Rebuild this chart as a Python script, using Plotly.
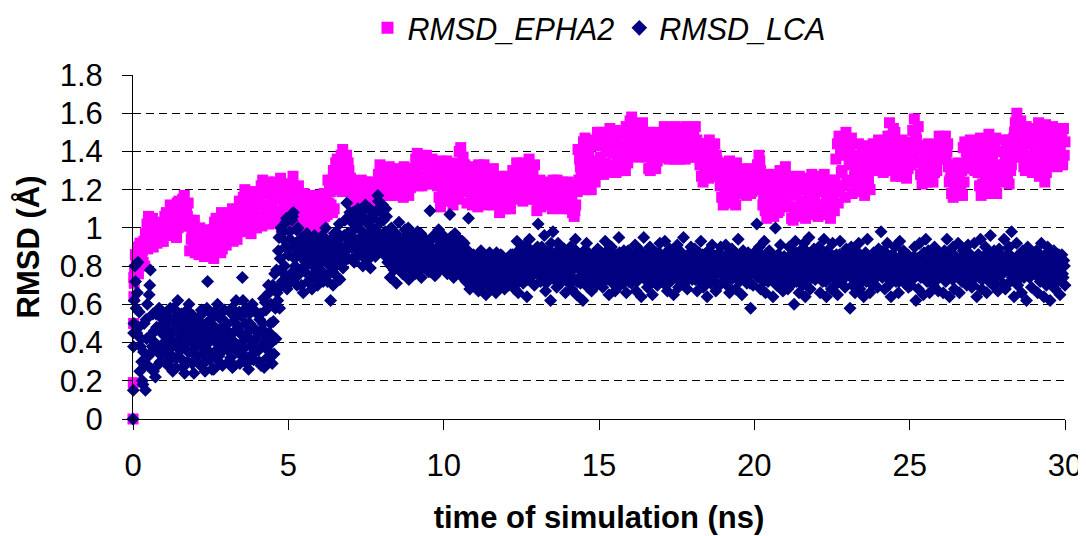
import numpy as np
import plotly.graph_objects as go

# ---------------- data ----------------
# first frames at the very start of the simulation (ns, Å)
epha2_start_t = [0.0, 0.01, 0.02, 0.03, 0.04]
epha2_start_v = [0.00, 0.19, 0.50, 0.64, 0.71]
lca_start_t = [0.0, 0.01, 0.015, 0.03]
lca_start_v = [0.00, 0.15, 0.38, 0.50]

# RMSD_EPHA2, every 0.05 ns from 0.05 to 30.00 ns (one row per ns)
epha2_vals = [
    0.78, 0.84, 0.90, 0.86, 0.82, 0.88, 0.93, 0.97, 1.02, 1.06, 1.01, 0.95, 0.90, 0.94, 0.99, 1.03, 0.98, 0.93, 0.96, 1.01,
    0.97, 1.02, 1.07, 1.12, 1.08, 1.03, 0.98, 0.95, 1.00, 1.05, 1.10, 1.15, 1.17, 1.12, 1.06, 1.01, 1.04, 0.98, 0.92, 0.87,
    0.91, 0.96, 1.00, 0.95, 0.90, 0.85, 0.89, 0.94, 0.98, 0.93, 0.88, 0.84, 0.88, 0.93, 0.99, 1.04, 1.08, 1.02, 0.96, 0.91,
    0.95, 1.00, 1.05, 1.10, 1.05, 1.00, 0.94, 0.99, 1.05, 1.11, 1.16, 1.20, 1.14, 1.08, 1.02, 0.97, 1.02, 1.08, 1.14, 1.18,
    1.12, 1.06, 1.01, 1.06, 1.12, 1.18, 1.24, 1.20, 1.14, 1.08, 1.03, 1.09, 1.15, 1.21, 1.26, 1.21, 1.15, 1.09, 1.05, 1.11,
    1.17, 1.23, 1.27, 1.21, 1.15, 1.09, 1.04, 1.09, 1.14, 1.18, 1.13, 1.07, 1.01, 1.05, 1.10, 1.16, 1.11, 1.05, 0.99, 1.04,
    1.09, 1.14, 1.18, 1.12, 1.07, 1.13, 1.19, 1.25, 1.30, 1.24, 1.20, 1.26, 1.33, 1.38, 1.41, 1.35, 1.28, 1.22, 1.30, 1.26,
    1.20, 1.14, 1.09, 1.13, 1.18, 1.23, 1.25, 1.19, 1.13, 1.10, 1.15, 1.20, 1.24, 1.18, 1.12, 1.16, 1.22, 1.28, 1.33, 1.27,
    1.21, 1.17, 1.22, 1.27, 1.32, 1.28, 1.22, 1.17, 1.20, 1.25, 1.30, 1.26, 1.20, 1.16, 1.21, 1.26, 1.31, 1.27, 1.22, 1.26,
    1.31, 1.36, 1.39, 1.33, 1.27, 1.22, 1.27, 1.33, 1.38, 1.34, 1.28, 1.23, 1.28, 1.34, 1.29, 1.22, 1.16, 1.11, 1.17, 1.24,
    1.30, 1.35, 1.29, 1.22, 1.16, 1.12, 1.18, 1.25, 1.33, 1.40, 1.42, 1.34, 1.26, 1.19, 1.13, 1.19, 1.26, 1.32, 1.27, 1.20,
    1.14, 1.11, 1.17, 1.23, 1.29, 1.33, 1.27, 1.21, 1.15, 1.19, 1.25, 1.31, 1.26, 1.19, 1.13, 1.08, 1.13, 1.19, 1.25, 1.27,
    1.21, 1.15, 1.10, 1.16, 1.22, 1.28, 1.34, 1.29, 1.23, 1.17, 1.14, 1.20, 1.26, 1.32, 1.36, 1.31, 1.25, 1.19, 1.15, 1.09,
    1.20, 1.25, 1.21, 1.16, 1.13, 1.18, 1.23, 1.19, 1.14, 1.10, 1.15, 1.20, 1.25, 1.22, 1.17, 1.12, 1.10, 1.15, 1.21, 1.24,
    1.18, 1.13, 1.08, 1.06, 1.12, 1.19, 1.25, 1.32, 1.39, 1.45, 1.47, 1.40, 1.33, 1.26, 1.20, 1.27, 1.35, 1.43, 1.50, 1.44,
    1.37, 1.30, 1.28, 1.34, 1.41, 1.48, 1.52, 1.46, 1.39, 1.32, 1.29, 1.35, 1.42, 1.49, 1.43, 1.36, 1.30, 1.38, 1.47, 1.56,
    1.58, 1.52, 1.46, 1.40, 1.37, 1.43, 1.49, 1.55, 1.50, 1.44, 1.37, 1.31, 1.30, 1.36, 1.42, 1.48, 1.50, 1.43, 1.37, 1.42,
    1.48, 1.53, 1.47, 1.41, 1.36, 1.40, 1.46, 1.51, 1.53, 1.47, 1.41, 1.36, 1.38, 1.44, 1.50, 1.53, 1.48, 1.42, 1.37, 1.43,
    1.49, 1.53, 1.46, 1.39, 1.33, 1.27, 1.24, 1.30, 1.37, 1.43, 1.46, 1.40, 1.33, 1.27, 1.31, 1.35, 1.29, 1.22, 1.16, 1.12,
    1.18, 1.25, 1.31, 1.35, 1.29, 1.22, 1.16, 1.12, 1.18, 1.24, 1.29, 1.31, 1.25, 1.19, 1.17, 1.22, 1.28, 1.31, 1.26, 1.20,
    1.27, 1.33, 1.38, 1.30, 1.22, 1.15, 1.09, 1.05, 1.11, 1.18, 1.24, 1.28, 1.21, 1.14, 1.08, 1.09, 1.16, 1.23, 1.29, 1.32,
    1.25, 1.18, 1.11, 1.05, 1.04, 1.10, 1.17, 1.23, 1.27, 1.21, 1.14, 1.08, 1.05, 1.11, 1.17, 1.23, 1.28, 1.22, 1.15, 1.09,
    1.06, 1.12, 1.19, 1.26, 1.28, 1.21, 1.14, 1.08, 1.05, 1.11, 1.18, 1.25, 1.19, 1.13, 1.20, 1.29, 1.38, 1.46, 1.50, 1.42,
    1.33, 1.25, 1.18, 1.24, 1.31, 1.38, 1.44, 1.37, 1.30, 1.23, 1.17, 1.22, 1.29, 1.36, 1.42, 1.36, 1.30, 1.35, 1.41, 1.46,
    1.40, 1.34, 1.29, 1.35, 1.41, 1.48, 1.55, 1.48, 1.40, 1.33, 1.27, 1.32, 1.38, 1.44, 1.46, 1.39, 1.32, 1.26, 1.31, 1.37,
    1.44, 1.51, 1.57, 1.49, 1.41, 1.34, 1.28, 1.23, 1.29, 1.36, 1.42, 1.44, 1.37, 1.30, 1.24, 1.29, 1.35, 1.41, 1.48, 1.42,
    1.36, 1.42, 1.48, 1.40, 1.32, 1.25, 1.18, 1.16, 1.22, 1.28, 1.34, 1.27, 1.20, 1.17, 1.24, 1.31, 1.38, 1.44, 1.46, 1.39,
    1.33, 1.30, 1.36, 1.29, 1.22, 1.17, 1.23, 1.30, 1.37, 1.44, 1.49, 1.42, 1.35, 1.27, 1.20, 1.18, 1.25, 1.33, 1.40, 1.46,
    1.40, 1.33, 1.26, 1.23, 1.30, 1.38, 1.47, 1.55, 1.60, 1.52, 1.44, 1.37, 1.43, 1.50, 1.53, 1.46, 1.38, 1.31, 1.29, 1.36,
    1.43, 1.50, 1.55, 1.47, 1.39, 1.31, 1.24, 1.29, 1.36, 1.44, 1.51, 1.53, 1.46, 1.39, 1.32, 1.36, 1.42, 1.48, 1.52, 1.45,
]

# RMSD_EPHA2, in-between frames: every 0.05 ns from 0.025 to 29.975 ns (one row per ns)
epha2_vals_mid = [
    0.74, 0.86, 0.80, 0.76, 0.92, 0.86, 0.82, 0.80, 0.93, 0.89, 0.95, 1.00, 1.05, 1.00, 0.95, 0.92, 0.97, 1.02, 0.98, 0.93,
    1.06, 1.08, 1.03, 0.98, 0.96, 1.02, 1.07, 1.11, 1.13, 1.14, 1.09, 1.04, 1.01, 1.03, 1.08, 1.13, 0.88, 0.94, 1.00, 1.04,
    0.98, 0.90, 0.86, 0.88, 0.94, 0.99, 0.96, 0.90, 0.86, 0.89, 0.95, 0.99, 1.03, 1.05, 0.98, 0.92, 0.87, 0.89, 0.95, 1.00,
    1.04, 1.07, 1.02, 0.96, 0.93, 0.98, 1.06, 1.10, 1.14, 1.09, 1.03, 0.99, 0.98, 1.05, 1.11, 1.17, 1.19, 1.12, 1.06, 1.00,
    1.04, 1.16, 1.22, 1.25, 1.18, 1.11, 1.05, 1.02, 1.07, 1.13, 1.20, 1.24, 1.16, 1.08, 1.03, 1.00, 1.06, 1.13, 1.19, 1.23,
    1.16, 1.08, 1.04, 1.03, 1.10, 1.17, 1.22, 1.13, 1.06, 1.01, 1.00, 1.06, 1.12, 1.17, 1.14, 1.04, 1.02, 1.09, 1.15, 1.17,
    1.12, 1.03, 1.00, 1.06, 1.17, 1.25, 1.20, 1.12, 1.08, 1.10, 1.34, 1.36, 1.29, 1.23, 1.19, 1.21, 1.30, 1.38, 1.34, 1.19,
    1.24, 1.12, 1.17, 1.23, 1.21, 1.15, 1.11, 1.10, 1.16, 1.22, 1.24, 1.19, 1.14, 1.11, 1.17, 1.23, 1.21, 1.19, 1.20, 1.24,
    1.30, 1.27, 1.31, 1.26, 1.21, 1.17, 1.19, 1.26, 1.31, 1.28, 1.23, 1.18, 1.22, 1.28, 1.32, 1.27, 1.22, 1.17, 1.21, 1.26,
    1.24, 1.29, 1.24, 1.22, 1.27, 1.33, 1.37, 1.33, 1.27, 1.23, 1.25, 1.32, 1.36, 1.31, 1.26, 1.30, 1.24, 1.33, 1.35, 1.29,
    1.17, 1.14, 1.20, 1.27, 1.32, 1.34, 1.28, 1.20, 1.15, 1.18, 1.24, 1.30, 1.37, 1.33, 1.27, 1.31, 1.22, 1.15, 1.12, 1.17,
    1.24, 1.30, 1.33, 1.27, 1.21, 1.15, 1.12, 1.17, 1.24, 1.29, 1.22, 1.16, 1.12, 1.14, 1.20, 1.25, 1.27, 1.21, 1.15, 1.10,
    1.13, 1.20, 1.25, 1.24, 1.30, 1.26, 1.19, 1.15, 1.20, 1.28, 1.34, 1.33, 1.27, 1.21, 1.16, 1.15, 1.22, 1.29, 1.33, 1.24,
    1.16, 1.12, 1.11, 1.17, 1.22, 1.24, 1.15, 1.12, 1.18, 1.23, 1.25, 1.18, 1.13, 1.11, 1.15, 1.20, 1.24, 1.23, 1.17, 1.12,
    1.21, 1.10, 1.15, 1.20, 1.09, 1.22, 1.41, 1.36, 1.28, 1.22, 1.20, 1.25, 1.31, 1.38, 1.44, 1.46, 1.32, 1.24, 1.28, 1.34,
    1.49, 1.45, 1.50, 1.47, 1.40, 1.33, 1.29, 1.32, 1.41, 1.48, 1.51, 1.46, 1.39, 1.32, 1.30, 1.40, 1.50, 1.53, 1.34, 1.42,
    1.38, 1.42, 1.50, 1.54, 1.53, 1.47, 1.41, 1.38, 1.43, 1.48, 1.44, 1.48, 1.50, 1.45, 1.39, 1.33, 1.31, 1.35, 1.44, 1.49,
    1.39, 1.37, 1.42, 1.48, 1.52, 1.50, 1.43, 1.38, 1.36, 1.40, 1.46, 1.51, 1.52, 1.45, 1.39, 1.36, 1.38, 1.45, 1.51, 1.50,
    1.44, 1.39, 1.37, 1.42, 1.44, 1.40, 1.35, 1.44, 1.38, 1.30, 1.26, 1.28, 1.35, 1.42, 1.44, 1.38, 1.30, 1.34, 1.28, 1.33,
    1.24, 1.29, 1.22, 1.16, 1.13, 1.19, 1.26, 1.32, 1.34, 1.27, 1.21, 1.18, 1.20, 1.26, 1.30, 1.28, 1.23, 1.18, 1.19, 1.25,
    1.30, 1.22, 1.26, 1.35, 1.26, 1.12, 1.19, 1.25, 1.28, 1.22, 1.15, 1.08, 1.06, 1.12, 1.19, 1.26, 1.30, 1.24, 1.17, 1.11,
    1.14, 1.20, 1.27, 1.24, 1.21, 1.26, 1.18, 1.11, 1.06, 1.08, 1.14, 1.20, 1.25, 1.26, 1.21, 1.15, 1.09, 1.07, 1.12, 1.19,
    1.24, 1.27, 1.20, 1.12, 1.07, 1.09, 1.15, 1.20, 1.25, 1.22, 1.16, 1.09, 1.36, 1.44, 1.48, 1.40, 1.30, 1.22, 1.16, 1.24,
    1.46, 1.40, 1.47, 1.36, 1.27, 1.22, 1.19, 1.26, 1.33, 1.39, 1.43, 1.37, 1.31, 1.25, 1.20, 1.40, 1.44, 1.38, 1.33, 1.31,
    1.36, 1.42, 1.45, 1.40, 1.33, 1.38, 1.30, 1.36, 1.45, 1.52, 1.50, 1.42, 1.35, 1.30, 1.27, 1.30, 1.37, 1.43, 1.45, 1.40,
    1.33, 1.42, 1.36, 1.35, 1.46, 1.53, 1.34, 1.41, 1.43, 1.35, 1.28, 1.24, 1.27, 1.33, 1.40, 1.43, 1.36, 1.30, 1.40, 1.45,
    1.38, 1.45, 1.40, 1.36, 1.44, 1.24, 1.29, 1.33, 1.30, 1.24, 1.19, 1.17, 1.23, 1.30, 1.42, 1.45, 1.40, 1.33, 1.31, 1.35,
    1.42, 1.45, 1.40, 1.44, 1.39, 1.47, 1.41, 1.34, 1.27, 1.21, 1.18, 1.24, 1.31, 1.39, 1.45, 1.47, 1.40, 1.32, 1.26, 1.24,
    1.30, 1.37, 1.43, 1.46, 1.40, 1.33, 1.42, 1.50, 1.41, 1.39, 1.48, 1.56, 1.38, 1.32, 1.30, 1.36, 1.44, 1.51, 1.52, 1.47,
    1.40, 1.34, 1.29, 1.27, 1.35, 1.43, 1.50, 1.54, 1.47, 1.40, 1.34, 1.33, 1.38, 1.45, 1.51, 1.50, 1.43, 1.37, 1.33, 1.38,
]

# RMSD_LCA, every 0.04 ns from 0.04 to 30.00 ns (one row per ns)
lca_vals = [
    0.62, 0.72, 0.45, 0.82, 0.56, 0.38, 0.30, 0.18, 0.50, 0.15, 0.42, 0.28, 0.65, 0.78, 0.35, 0.55, 0.46, 0.22, 0.48, 0.36, 0.58, 0.30, 0.45, 0.52, 0.40,
    0.34, 0.50, 0.28, 0.44, 0.58, 0.38, 0.25, 0.47, 0.53, 0.32, 0.62, 0.41, 0.36, 0.55, 0.27, 0.46, 0.39, 0.52, 0.30, 0.60, 0.43, 0.35, 0.49, 0.24, 0.45,
    0.38, 0.52, 0.29, 0.46, 0.57, 0.34, 0.42, 0.25, 0.50, 0.72, 0.40, 0.31, 0.55, 0.44, 0.26, 0.48, 0.36, 0.60, 0.33, 0.45, 0.53, 0.28, 0.41, 0.37, 0.49,
    0.44, 0.30, 0.56, 0.39, 0.27, 0.51, 0.46, 0.62, 0.35, 0.48, 0.29, 0.54, 0.74, 0.41, 0.33, 0.58, 0.45, 0.26, 0.50, 0.38, 0.60, 0.31, 0.47, 0.42, 0.55,
    0.36, 0.52, 0.28, 0.47, 0.63, 0.40, 0.57, 0.32, 0.70, 0.45, 0.60, 0.29, 0.51, 0.76, 0.42, 0.66, 0.88, 0.58, 1.00, 0.72, 0.94, 0.80, 1.03, 0.68, 0.86,
    0.98, 0.76, 1.04, 1.08, 0.84, 0.92, 0.70, 1.00, 0.88, 0.78, 0.95, 0.66, 0.90, 0.82, 0.97, 0.72, 0.86, 0.93, 0.68, 0.80, 0.96, 0.74, 0.89, 0.83, 0.92,
    0.78, 0.94, 0.72, 0.88, 1.00, 0.82, 0.90, 0.76, 0.62, 0.86, 0.70, 0.97, 0.80, 0.92, 0.74, 1.02, 0.84, 0.88, 0.79, 0.96, 0.90, 1.13, 0.84, 1.06, 0.92,
    0.98, 1.08, 0.82, 1.00, 0.90, 1.10, 0.86, 0.95, 1.04, 0.80, 0.97, 1.12, 0.88, 1.02, 0.93, 0.79, 1.06, 0.91, 0.99, 0.85, 1.09, 1.17, 0.89, 1.03, 0.94,
    1.12, 0.86, 0.98, 1.06, 0.82, 0.92, 0.74, 1.00, 0.87, 0.78, 0.96, 0.71, 0.90, 1.03, 0.83, 0.94, 0.76, 0.88, 0.99, 0.80, 0.91, 0.73, 0.85, 0.97, 0.82,
    0.90, 0.76, 0.86, 0.98, 0.81, 0.93, 0.74, 0.88, 0.95, 0.79, 0.85, 0.91, 0.77, 1.09, 0.87, 0.80, 0.96, 0.75, 0.89, 0.83, 0.99, 0.78, 0.92, 0.84, 0.88,
    0.82, 0.94, 0.76, 0.88, 1.07, 0.80, 0.91, 0.74, 0.97, 0.84, 0.78, 0.90, 0.86, 0.75, 0.93, 0.81, 0.87, 0.72, 0.84, 1.05, 0.68, 0.80, 0.74, 0.86, 0.70,
    0.78, 0.84, 0.67, 0.80, 0.88, 0.72, 0.76, 0.85, 0.65, 0.81, 0.74, 0.87, 0.69, 0.79, 0.73, 0.83, 0.66, 0.80, 0.76, 0.71, 0.86, 0.75, 0.82, 0.68, 0.77,
    0.82, 0.70, 0.78, 0.86, 0.73, 0.80, 0.68, 0.84, 0.93, 0.66, 0.82, 0.75, 0.90, 0.71, 0.79, 0.88, 0.64, 0.83, 0.94, 0.74, 0.86, 0.77, 0.70, 0.89, 0.80,
    1.02, 0.84, 0.72, 0.90, 0.78, 0.96, 0.67, 0.85, 0.76, 0.88, 0.62, 0.81, 0.98, 0.73, 0.87, 0.69, 0.92, 0.79, 0.71, 0.84, 0.77, 0.89, 0.66, 0.82, 0.75,
    0.80, 0.90, 0.68, 0.83, 0.73, 0.94, 0.65, 0.79, 0.86, 0.71, 0.81, 0.62, 0.88, 0.75, 0.92, 0.69, 0.84, 0.77, 0.67, 0.86, 0.74, 0.82, 0.70, 0.89, 0.78,
    0.74, 0.87, 0.69, 0.81, 0.93, 0.73, 0.84, 0.65, 0.79, 0.90, 0.71, 0.82, 0.67, 0.86, 0.76, 0.95, 0.70, 0.80, 0.74, 0.88, 0.78, 0.66, 0.84, 0.72, 0.83,
    0.71, 0.85, 0.78, 0.91, 0.67, 0.81, 0.75, 0.88, 0.64, 0.82, 0.95, 0.73, 0.86, 0.69, 0.79, 0.90, 0.74, 0.65, 0.84, 0.77, 0.87, 0.70, 0.80, 0.92, 0.76,
    0.85, 0.71, 0.93, 0.78, 0.67, 0.82, 0.89, 0.73, 0.80, 0.65, 0.87, 0.76, 0.91, 0.69, 0.84, 0.75, 0.80, 0.95, 0.71, 0.82, 0.68, 0.86, 0.77, 0.90, 0.73,
    0.75, 0.89, 0.80, 0.67, 0.86, 0.72, 0.93, 0.78, 0.69, 0.84, 0.76, 0.64, 0.88, 0.81, 0.71, 0.91, 0.74, 0.83, 0.67, 0.86, 0.79, 0.70, 0.90, 0.77, 0.82,
    0.78, 0.91, 0.70, 0.84, 0.66, 0.80, 0.89, 0.74, 0.86, 0.68, 0.82, 0.94, 0.72, 0.79, 0.65, 0.88, 0.76, 0.83, 0.71, 0.87, 0.75, 0.58, 0.84, 0.70, 0.80,
    0.86, 1.02, 0.74, 0.90, 0.68, 0.82, 0.78, 0.93, 0.66, 0.84, 0.72, 0.88, 0.76, 0.81, 0.64, 0.80, 1.00, 0.70, 0.86, 0.74, 0.91, 0.79, 0.67, 0.85, 0.77,
    0.82, 0.68, 0.90, 0.76, 0.84, 0.71, 0.60, 0.93, 0.72, 0.80, 0.66, 0.88, 0.78, 0.70, 0.92, 0.64, 0.86, 0.74, 0.95, 0.68, 0.82, 0.77, 0.89, 0.73, 0.81,
    0.76, 0.90, 0.66, 0.84, 0.72, 0.94, 0.80, 0.64, 0.88, 0.74, 0.82, 0.68, 0.92, 0.78, 0.70, 0.86, 0.65, 0.80, 0.93, 0.72, 0.85, 0.77, 0.69, 0.89, 0.79,
    0.84, 0.58, 0.90, 0.70, 0.80, 0.66, 0.88, 0.74, 0.92, 0.68, 0.82, 0.76, 0.64, 0.86, 0.72, 0.94, 0.78, 0.66, 0.84, 0.70, 0.87, 0.75, 0.81, 0.69, 0.89,
    0.80, 0.98, 0.74, 0.88, 0.68, 0.84, 0.92, 0.70, 0.78, 0.64, 0.86, 0.76, 0.90, 0.72, 0.82, 0.66, 0.93, 0.74, 0.80, 0.88, 0.71, 0.85, 0.77, 0.69, 0.83,
    0.70, 0.84, 0.76, 0.90, 0.62, 0.82, 0.68, 0.92, 0.74, 0.86, 0.65, 0.80, 0.94, 0.72, 0.88, 0.66, 0.78, 0.84, 0.70, 0.90, 0.75, 0.81, 0.67, 0.87, 0.79,
    0.76, 0.66, 0.88, 0.72, 0.94, 0.80, 0.64, 0.86, 0.74, 0.90, 0.68, 0.82, 0.78, 0.92, 0.66, 0.84, 0.72, 0.88, 0.76, 0.80, 0.70, 0.91, 0.77, 0.83, 0.69,
    0.70, 0.92, 0.78, 0.64, 0.86, 0.74, 0.94, 0.68, 0.82, 0.76, 0.90, 0.66, 0.84, 0.72, 0.96, 0.80, 0.70, 0.88, 0.74, 0.82, 0.67, 0.89, 0.77, 0.85, 0.71,
    0.94, 0.68, 0.86, 0.78, 0.90, 0.72, 0.98, 0.84, 0.64, 0.80, 0.92, 0.70, 0.86, 0.76, 0.66, 0.88, 0.74, 0.82, 0.62, 0.90, 0.75, 0.83, 0.69, 0.87, 0.79,
    0.76, 0.88, 0.66, 0.84, 0.72, 0.92, 0.80, 0.64, 0.86, 0.70, 0.90, 0.74, 0.62, 0.82, 0.78, 0.88, 0.68, 0.84, 0.72, 0.86, 0.65, 0.80, 0.76, 0.83, 0.70,
]

# RMSD_LCA, in-between frames: every 0.04 ns from 0.02 to 29.98 ns (one row per ns)
lca_vals_mid = [
    0.45, 0.80, 0.58, 0.66, 0.48, 0.25, 0.42, 0.20, 0.35, 0.28, 0.52, 0.60, 0.33, 0.70, 0.44, 0.38, 0.25, 0.40, 0.55, 0.28, 0.47, 0.34, 0.56, 0.38, 0.50,
    0.48, 0.36, 0.56, 0.30, 0.43, 0.52, 0.33, 0.58, 0.40, 0.27, 0.49, 0.37, 0.55, 0.44, 0.31, 0.51, 0.24, 0.47, 0.57, 0.35, 0.42, 0.50, 0.29, 0.54, 0.39,
    0.43, 0.33, 0.50, 0.40, 0.28, 0.55, 0.37, 0.47, 0.30, 0.58, 0.45, 0.35, 0.52, 0.26, 0.42, 0.56, 0.32, 0.46, 0.39, 0.53, 0.29, 0.48, 0.36, 0.57, 0.42,
    0.50, 0.36, 0.45, 0.32, 0.58, 0.41, 0.28, 0.53, 0.38, 0.47, 0.56, 0.34, 0.44, 0.62, 0.37, 0.50, 0.29, 0.43, 0.55, 0.33, 0.48, 0.40, 0.57, 0.35, 0.46,
    0.45, 0.30, 0.55, 0.38, 0.50, 0.27, 0.61, 0.43, 0.36, 0.66, 0.50, 0.40, 0.70, 0.34, 0.58, 0.78, 0.62, 0.95, 0.84, 0.70, 0.98, 0.76, 0.90, 1.05, 0.74,
    0.86, 0.94, 0.72, 1.06, 0.90, 0.80, 0.99, 0.75, 0.88, 0.94, 0.70, 0.84, 0.91, 0.77, 0.87, 0.81, 0.95, 0.73, 0.89, 0.84, 0.76, 0.92, 0.82, 0.70, 0.86,
    0.88, 0.82, 0.96, 0.76, 0.85, 0.92, 0.72, 0.86, 0.80, 0.94, 0.77, 0.87, 0.84, 0.98, 0.81, 0.90, 0.73, 0.95, 0.86, 0.82, 1.04, 0.88, 0.97, 0.92, 1.08,
    0.90, 0.84, 1.02, 0.94, 1.06, 0.88, 1.00, 0.92, 0.86, 1.08, 0.95, 0.89, 1.04, 0.83, 0.97, 1.10, 0.91, 0.87, 1.05, 0.94, 0.99, 0.90, 1.14, 0.96, 1.08,
    0.94, 1.04, 0.90, 1.10, 0.95, 0.86, 0.99, 0.80, 0.92, 0.84, 0.89, 0.97, 0.82, 0.94, 0.87, 0.78, 0.91, 0.85, 0.95, 0.83, 0.88, 1.00, 0.79, 0.93, 0.86,
    0.85, 0.95, 0.80, 0.91, 0.86, 0.78, 0.97, 0.84, 0.89, 0.82, 0.93, 0.80, 0.87, 0.91, 0.77, 0.94, 0.84, 0.88, 0.81, 0.95, 0.86, 0.79, 0.90, 0.83, 0.96,
    0.89, 0.80, 0.86, 0.93, 0.84, 0.95, 0.78, 0.88, 0.82, 0.91, 0.85, 0.79, 0.94, 0.83, 0.89, 0.77, 0.92, 0.80, 0.75, 0.88, 0.78, 0.72, 0.84, 0.77, 0.82,
    0.81, 0.75, 0.86, 0.72, 0.79, 0.83, 0.70, 0.77, 0.82, 0.74, 0.85, 0.78, 0.71, 0.84, 0.76, 0.80, 0.73, 0.87, 0.78, 0.82, 0.69, 0.79, 0.85, 0.74, 0.81,
    0.75, 0.84, 0.79, 0.72, 0.81, 0.86, 0.77, 0.74, 0.87, 0.80, 0.72, 0.85, 0.78, 0.83, 0.76, 0.91, 0.80, 0.73, 0.84, 0.79, 0.88, 0.75, 0.82, 0.77, 0.85,
    0.90, 0.78, 0.85, 0.74, 0.82, 0.79, 0.87, 0.71, 0.80, 0.84, 0.76, 0.92, 0.79, 0.83, 0.75, 0.81, 0.86, 0.73, 0.88, 0.80, 0.74, 0.83, 0.78, 0.86, 0.72,
    0.83, 0.77, 0.86, 0.74, 0.81, 0.79, 0.88, 0.72, 0.84, 0.78, 0.75, 0.85, 0.80, 0.71, 0.83, 0.78, 0.87, 0.73, 0.81, 0.79, 0.85, 0.76, 0.82, 0.74, 0.86,
    0.80, 0.76, 0.85, 0.72, 0.83, 0.78, 0.88, 0.74, 0.81, 0.77, 0.86, 0.79, 0.73, 0.84, 0.80, 0.75, 0.87, 0.78, 0.82, 0.71, 0.85, 0.79, 0.76, 0.88, 0.81,
    0.77, 0.83, 0.74, 0.86, 0.80, 0.72, 0.84, 0.79, 0.88, 0.75, 0.81, 0.77, 0.85, 0.73, 0.82, 0.79, 0.86, 0.76, 0.80, 0.84, 0.71, 0.83, 0.78, 0.87, 0.75,
    0.81, 0.78, 0.86, 0.74, 0.83, 0.77, 0.85, 0.72, 0.80, 0.84, 0.76, 0.88, 0.79, 0.73, 0.82, 0.78, 0.87, 0.75, 0.84, 0.80, 0.74, 0.86, 0.79, 0.83, 0.77,
    0.80, 0.84, 0.73, 0.82, 0.78, 0.87, 0.75, 0.81, 0.86, 0.72, 0.79, 0.83, 0.76, 0.88, 0.80, 0.74, 0.85, 0.78, 0.82, 0.71, 0.84, 0.77, 0.86, 0.79, 0.75,
    0.83, 0.76, 0.86, 0.79, 0.72, 0.84, 0.78, 0.81, 0.75, 0.87, 0.80, 0.74, 0.85, 0.77, 0.82, 0.79, 0.73, 0.86, 0.80, 0.76, 0.84, 0.71, 0.78, 0.83, 0.77,
    0.79, 0.88, 0.76, 0.83, 0.74, 0.86, 0.80, 0.72, 0.84, 0.78, 0.81, 0.75, 0.87, 0.79, 0.73, 0.85, 0.82, 0.77, 0.80, 0.86, 0.74, 0.83, 0.78, 0.81, 0.72,
    0.77, 0.84, 0.80, 0.73, 0.86, 0.78, 0.82, 0.75, 0.87, 0.81, 0.74, 0.85, 0.79, 0.83, 0.76, 0.80, 0.88, 0.72, 0.84, 0.78, 0.86, 0.74, 0.81, 0.79, 0.85,
    0.82, 0.78, 0.74, 0.86, 0.80, 0.76, 0.84, 0.72, 0.81, 0.87, 0.77, 0.83, 0.75, 0.80, 0.85, 0.73, 0.82, 0.78, 0.86, 0.76, 0.80, 0.84, 0.74, 0.82, 0.77,
    0.79, 0.75, 0.84, 0.78, 0.86, 0.73, 0.81, 0.80, 0.76, 0.85, 0.79, 0.72, 0.83, 0.78, 0.87, 0.80, 0.74, 0.82, 0.77, 0.85, 0.79, 0.73, 0.84, 0.76, 0.81,
    0.85, 0.78, 0.82, 0.75, 0.80, 0.87, 0.77, 0.83, 0.73, 0.81, 0.79, 0.86, 0.74, 0.84, 0.78, 0.80, 0.72, 0.85, 0.79, 0.76, 0.83, 0.80, 0.74, 0.86, 0.78,
    0.77, 0.80, 0.73, 0.85, 0.78, 0.76, 0.84, 0.80, 0.82, 0.75, 0.79, 0.87, 0.76, 0.81, 0.74, 0.83, 0.80, 0.77, 0.86, 0.79, 0.72, 0.84, 0.78, 0.81, 0.75,
    0.82, 0.76, 0.80, 0.85, 0.74, 0.78, 0.83, 0.79, 0.81, 0.73, 0.86, 0.77, 0.84, 0.80, 0.75, 0.82, 0.78, 0.85, 0.72, 0.80, 0.83, 0.76, 0.87, 0.79, 0.74,
    0.78, 0.84, 0.74, 0.81, 0.79, 0.86, 0.76, 0.80, 0.73, 0.85, 0.78, 0.82, 0.75, 0.87, 0.79, 0.83, 0.77, 0.80, 0.85, 0.74, 0.82, 0.78, 0.86, 0.76, 0.81,
    0.80, 0.77, 0.84, 0.79, 0.82, 0.86, 0.78, 0.74, 0.83, 0.77, 0.80, 0.85, 0.73, 0.81, 0.78, 0.84, 0.79, 0.76, 0.82, 0.80, 0.86, 0.74, 0.83, 0.78, 0.81,
    0.79, 0.83, 0.75, 0.80, 0.86, 0.77, 0.82, 0.74, 0.84, 0.79, 0.81, 0.76, 0.85, 0.78, 0.72, 0.83, 0.80, 0.77, 0.84, 0.75, 0.82, 0.79, 0.86, 0.74, 0.80,
]

x_ticks = [0, 5, 10, 15, 20, 25, 30]
y_ticks = [0, 0.2, 0.4, 0.6, 0.8, 1, 1.2, 1.4, 1.6, 1.8]

# time grids
epha2_t = (list(epha2_start_t)
           + list(np.round(np.arange(1, len(epha2_vals) + 1) * 0.05, 3))
           + list(np.round(0.025 + np.arange(len(epha2_vals_mid)) * 0.05, 3)))
epha2_v = list(epha2_start_v) + epha2_vals + epha2_vals_mid
lca_t = (list(lca_start_t)
         + list(np.round(np.arange(1, len(lca_vals) + 1) * 0.04, 3))
         + list(np.round(0.02 + np.arange(len(lca_vals_mid)) * 0.04, 3)))
lca_v = list(lca_start_v) + lca_vals + lca_vals_mid

FONT = "Liberation Sans, Arial, sans-serif"
FS = 31
PAGE_OFFSET = 8  # the page body margin shifts the figure by 8 px

fig = go.Figure()
fig.add_trace(go.Scatter(
    x=epha2_t, y=epha2_v, mode="markers", name="RMSD_EPHA2",
    marker=dict(symbol="square", size=11, color="#FF00FF", line=dict(width=0)),
    cliponaxis=False,
))
fig.add_trace(go.Scatter(
    x=lca_t, y=lca_v, mode="markers", name="RMSD_LCA",
    marker=dict(symbol="diamond", size=10, color="#000080", line=dict(width=0)),
    cliponaxis=False,
))

fig.update_layout(
    width=1086, height=536,
    margin=dict(l=133 - PAGE_OFFSET, r=21 + PAGE_OFFSET, t=75 - PAGE_OFFSET,
                b=117 + PAGE_OFFSET, autoexpand=False),
    paper_bgcolor="white", plot_bgcolor="white",
    font=dict(family=FONT, size=FS, color="black"),
    showlegend=True,
    legend=dict(
        orientation="h", xref="paper", x=0.5, xanchor="center",
        yref="container", y=1 - (28 - PAGE_OFFSET) / 536, yanchor="middle",
        font=dict(family=FONT, size=30.5, color="black", style="italic"),
        bgcolor="rgba(0,0,0,0)", itemsizing="constant",
    ),
    hovermode=False,
)

fig.update_xaxes(
    range=[0, 30], tickvals=x_ticks, ticktext=[str(v) for v in x_ticks],
    showline=True, linecolor="black", linewidth=1,
    ticks="outside", ticklen=10, tickcolor="black", tickwidth=1,
    ticklabelstandoff=9,
    showgrid=False, zeroline=False, automargin=False,
    tickfont=dict(family=FONT, size=FS, color="black"),
    title=dict(text="<b>time of simulation (ns)</b>",
               font=dict(family=FONT, size=FS, color="black"), standoff=24),
)
fig.update_yaxes(
    range=[0, 1.8], tickvals=y_ticks, ticktext=[("%g" % v) for v in y_ticks],
    showline=True, linecolor="black", linewidth=1,
    ticks="outside", ticklen=10, tickcolor="black", tickwidth=1,
    ticklabelstandoff=13,
    showgrid=True, gridcolor="black", gridwidth=1, griddash="8px,5px",
    zeroline=False, automargin=False,
    tickfont=dict(family=FONT, size=FS, color="black"),
    title=dict(text="<b>RMSD (Å)</b>",
               font=dict(family=FONT, size=FS, color="black"), standoff=10),
)

fig.write_html("out.html")
